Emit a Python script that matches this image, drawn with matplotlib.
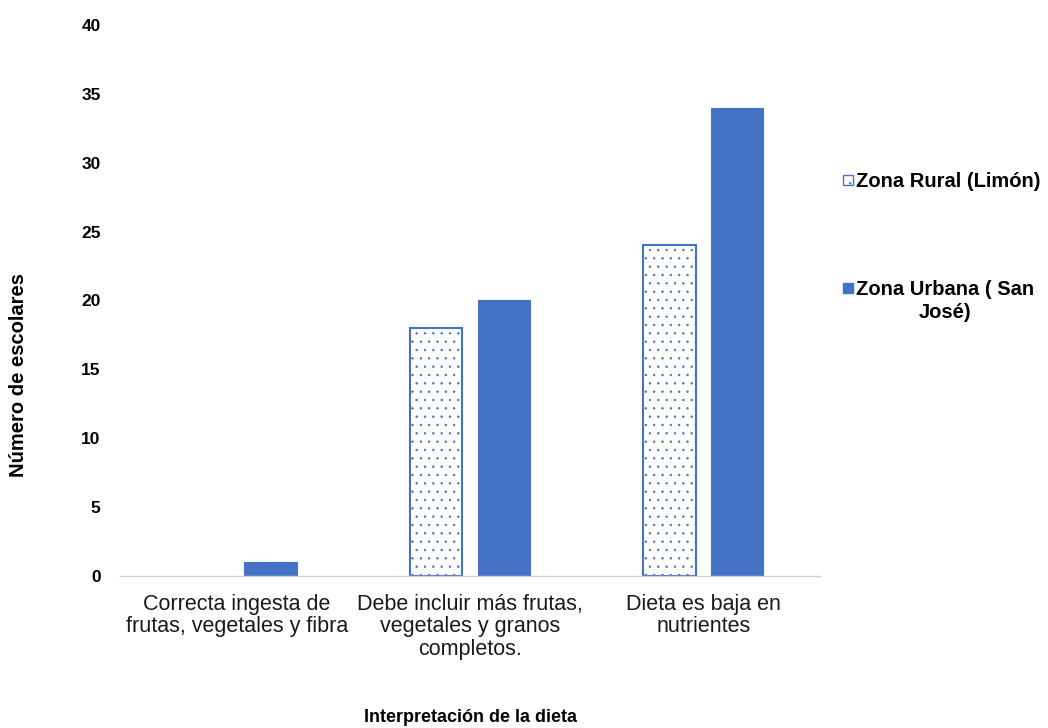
import matplotlib
matplotlib.use("Agg")
import matplotlib.pyplot as plt
import numpy as np
from matplotlib.patches import Rectangle

plt.rcParams['font.family'] = ['Liberation Sans', 'DejaVu Sans']
plt.rcParams['hatch.linewidth'] = 0.5

categories = [
    "Correcta ingesta de\nfrutas, vegetales y fibra",
    "Debe incluir más frutas,\nvegetales y granos\ncompletos.",
    "Dieta es baja en\nnutrientes",
]
rural = [0, 18, 24]
urbana = [1, 20, 34]
series_names = ["Zona Rural (Limón)", "Zona Urbana ( San\nJosé)"]
yticks = [0, 5, 10, 15, 20, 25, 30, 35, 40]

blue = "#4472C4"
dot_blue = "#8aa5da"

fig = plt.figure(figsize=(10.48, 7.28), dpi=100)
ax = fig.add_axes([0.1145, 0.2088, 0.668, 0.757])

x = np.arange(len(categories))
w = 0.225
gap = 0.065
plt.rcParams['hatch.color'] = dot_blue
rb = ax.bar(x - (w + gap) / 2, rural, width=w, facecolor="white", edgecolor=blue,
            linewidth=1.5, hatch="..")
for p, v in zip(rb, rural):
    if v == 0:
        p.set_visible(False)
ax.bar(x + (w + gap) / 2, urbana, width=w, color=blue, edgecolor=blue, linewidth=0.8)

ax.set_xlim(-0.5, 2.5)
ax.set_ylim(0, 40)
ax.set_yticks(yticks)
ax.set_yticklabels([str(t) for t in yticks], fontsize=12.5, fontweight="bold")
ax.set_xticks(x)
ax.set_xticklabels(categories, fontsize=15.5, linespacing=1.08, color="#1a1a1a")
ax.tick_params(axis="both", length=0)
ax.tick_params(axis="y", pad=14)
ax.tick_params(axis="x", pad=13)
for s in ["top", "right", "left"]:
    ax.spines[s].set_visible(False)
ax.spines["bottom"].set_color("#d0d0d0")
ax.spines["bottom"].set_linewidth(1.0)

fig.text(0.018, 0.485, "Número de escolares", rotation=90, ha="center", va="center",
         fontsize=14.5, fontweight="bold")
fig.text(0.4485, 0.014, "Interpretación de la dieta", ha="center", va="center",
         fontsize=13, fontweight="bold")

# legend entries drawn in figure coordinates
W, H = 1048, 728
entries = [(180, dict(facecolor="white", edgecolor=blue, hatch="..")),
           (288, dict(facecolor=blue, edgecolor=blue))]
for (ypx, style), label in zip(entries, series_names):
    fig.patches.append(Rectangle((843 / W, 1 - (ypx + 5) / H), 10 / W, 10 / H,
                                 transform=fig.transFigure, linewidth=1, **style))
    fig.text(856 / W, 1 - (ypx - 8) / H, label, ha="left", va="top", fontsize=14.5,
             fontweight="bold", multialignment="center", linespacing=1.25,
             transform=fig.transFigure)

fig.savefig("out.png", dpi=100)
